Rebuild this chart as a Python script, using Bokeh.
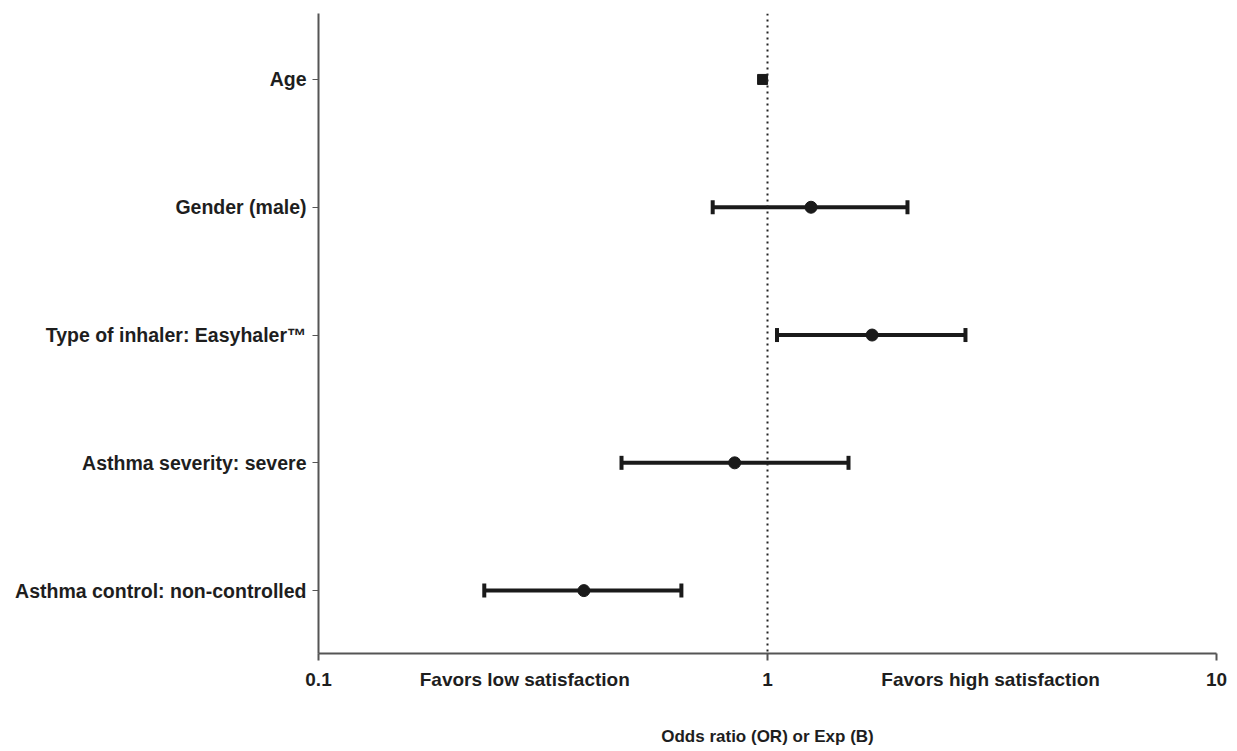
from bokeh.plotting import figure
from bokeh.models import Range1d, FixedTicker, Span
from bokeh.embed import file_html
from bokeh.resources import INLINE

categories = ["Age", "Gender (male)", "Type of inhaler: Easyhaler\u2122",
              "Asthma severity: severe", "Asthma control: non-controlled"]
odds = [0.975, 1.25, 1.71, 0.845, 0.39]
lower = [0.965, 0.755, 1.05, 0.473, 0.234]
upper = [0.985, 2.05, 2.76, 1.515, 0.643]
x_ticks = [0.1, 1, 10]
x_tick_labels = ["0.1", "1", "10"]
favor_pos = [0.288, 3.14]
favor_labels = ["Favors low satisfaction", "Favors high satisfaction"]

ypos = [5, 4, 3, 2, 1]
FONT = "Liberation Sans"
TXT = "#1e1e1e"
INK = "#1a1a1a"

p = figure(width=1230, height=748, x_axis_type="log",
           x_range=Range1d(0.1, 10), y_range=Range1d(0.508, 5.516),
           output_backend="svg", toolbar_location=None,
           min_border_left=318, min_border_right=14, min_border_top=13,
           min_border_bottom=94)
p.outline_line_color = None
p.grid.visible = False
p.background_fill_color = "white"

# dotted reference line at OR = 1
p.add_layout(Span(location=1, dimension="height", line_color="#222222",
                  line_width=2, line_dash="2 4"))

# error bars (the Age interval is hidden under its marker)
xs = [[lo, hi] for lo, hi in zip(lower[1:], upper[1:])]
ys = [[y, y] for y in ypos[1:]]
p.multi_line(xs, ys, line_color=INK, line_width=4)
p.scatter(lower[1:] + upper[1:], ypos[1:] + ypos[1:], marker="dash",
          angle=1.5708, size=14, line_color=INK, line_width=4)

# markers
p.scatter(odds[1:], ypos[1:], marker="circle", size=12,
          fill_color=INK, line_color=INK)
p.scatter(odds[:1], ypos[:1], marker="square", size=10,
          fill_color=INK, line_color=INK)

# x axis: numeric tick labels plus the two "favors" captions
xa = p.xaxis[0]
xa.ticker = FixedTicker(ticks=x_ticks + favor_pos, minor_ticks=x_ticks)
overrides = {t: l for t, l in zip(x_ticks, x_tick_labels)}
overrides.update({t: l for t, l in zip(favor_pos, favor_labels)})
xa.major_label_overrides = overrides
xa.major_label_text_font = FONT
xa.major_label_text_font_style = "bold"
xa.major_label_text_font_size = "19px"
xa.major_label_text_color = TXT
xa.major_label_standoff = 8
xa.axis_line_color = "#555555"
xa.axis_line_width = 2
xa.major_tick_out = 0
xa.major_tick_in = 0
xa.major_tick_line_color = None
xa.minor_tick_line_color = "#555555"
xa.minor_tick_line_width = 2
xa.minor_tick_out = 7
xa.minor_tick_in = 0
xa.axis_label = "Odds ratio (OR) or Exp (B)"
xa.axis_label_text_font = FONT
xa.axis_label_text_font_style = "bold"
xa.axis_label_text_font_size = "17px"
xa.axis_label_text_color = TXT
xa.axis_label_standoff = 34

# y axis
ya = p.yaxis[0]
ya.ticker = FixedTicker(ticks=ypos, minor_ticks=[])
ya.major_label_overrides = {y: c for y, c in zip(ypos, categories)}
ya.major_label_text_font = FONT
ya.major_label_text_font_style = "bold"
ya.major_label_text_font_size = "19.5px"
ya.major_label_text_color = TXT
ya.major_label_standoff = 6
ya.axis_line_color = "#555555"
ya.axis_line_width = 2
ya.major_tick_line_color = "#555555"
ya.major_tick_out = 6
ya.major_tick_in = 0

open("out.html", "w").write(file_html(p, INLINE))
